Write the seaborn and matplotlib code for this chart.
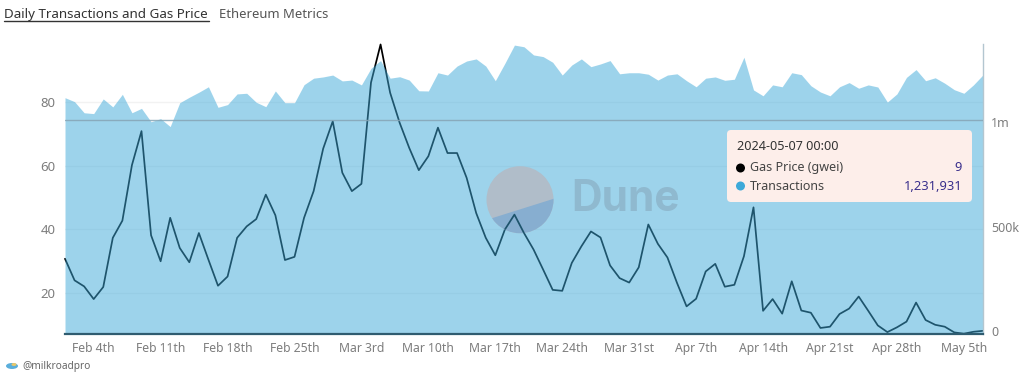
import matplotlib
matplotlib.use("Agg")
import matplotlib.pyplot as plt
import matplotlib.patches as mp
from matplotlib.lines import Line2D
import seaborn as sns
import pandas as pd

gas_price = [30.7,23.9,22,18,21.8,37.3,42.7,60.2,70.9,38.1,29.9,43.6,34.1,29.6,38.8,30.4,22.2,25.1,37.3,40.9,
             43.2,50.9,44.4,30.3,31.3,43.6,52,65.4,74,57.8,52,54.3,86.2,98.2,83,73.5,65.6,58.6,63,72,
             64,64,56.2,45.1,37.3,31.8,39.9,44.6,38.8,33.6,27.3,20.9,20.6,29.4,34.6,39.3,37.4,28.6,24.6,23.2,
             28,41.5,35.4,31.1,23.1,15.7,18.1,26.7,29.1,21.9,22.5,31.5,46.9,14.3,18,13.4,23.6,14.4,13.7,8.9,
             9.3,13.3,15,18.8,14.3,9.7,7.6,9.1,10.9,16.9,11.4,9.9,9.3,7.5,7.1,7.7,8]
transactions_k = [1116,1097,1044,1040,1110,1072,1132,1044,1065,1001,1016,978,1092,1118,1142,1168,1070,1083,1134,1137,
                  1094,1073,1148,1092,1092,1178,1209,1215,1224,1196,1200,1177,1256,1293,1209,1216,1200,1149,1148,1235,
                  1224,1267,1291,1301,1267,1197,1280,1367,1359,1320,1312,1285,1224,1272,1301,1264,1277,1293,1230,1235,
                  1235,1228,1200,1224,1230,1197,1168,1209,1215,1199,1204,1309,1153,1125,1177,1168,1235,1226,1173,1143,
                  1125,1168,1188,1161,1177,1167,1095,1134,1213,1250,1197,1211,1185,1154,1137,1177,1225]
x_tick_dates = ["2024-02-04","2024-02-11","2024-02-18","2024-02-25","2024-03-03","2024-03-10","2024-03-17",
                "2024-03-24","2024-03-31","2024-04-07","2024-04-14","2024-04-21","2024-04-28","2024-05-05"]
x_tick_labels = ["Feb 4th","Feb 11th","Feb 18th","Feb 25th","Mar 3rd","Mar 10th","Mar 17th",
                 "Mar 24th","Mar 31st","Apr 7th","Apr 14th","Apr 21st","Apr 28th","May 5th"]
gas_ticks = [20,40,60,80]
tx_ticks = [0,500000,1000000]
tx_tick_labels = ["0","500k","1m"]
tx_reference_line = 1010000

W, H = 1024, 375
sns.set_theme(style="white")
FONT = ["Noto Sans", "DejaVu Sans"]
plt.rcParams["font.family"] = FONT

df = pd.DataFrame({"date": pd.date_range("2024-02-01", periods=len(gas_price), freq="D"),
                   "gas": gas_price,
                   "tx": [v*1000 for v in transactions_k]})

rect = [65/W, 1-334/H, (983-65)/W, (334-43.5)/H]
fig = plt.figure(figsize=(W/100, H/100), dpi=100, facecolor="white")
ax = fig.add_axes(rect)
sns.lineplot(data=df, x="date", y="gas", ax=ax, color="black", lw=1.25, clip_on=False, zorder=3)
ax.set_xlim(df["date"].iloc[0], df["date"].iloc[-1])
ax.set_ylim(7.0, 98.5)
ax.set_yticks(gas_ticks)
ax.yaxis.grid(True, color="#f2f2f2", lw=1)
ax.xaxis.grid(False)
ax.set_xticks(pd.to_datetime(x_tick_dates))
ax.set_xticklabels(x_tick_labels)
ax.set_xlabel(""); ax.set_ylabel("")
ax.tick_params(axis="x", length=0, labelsize=8.8, labelcolor="#7d7d7d", pad=6)
ax.tick_params(axis="y", length=0, labelsize=9.5, labelcolor="#7d7d7d", pad=7)
for s in ax.spines.values():
    s.set_visible(False)

ax2 = ax.twinx()
ax2.patch.set_visible(False)
sns.lineplot(data=df, x="date", y="tx", ax=ax2, color="#3da9d9", lw=0)
ax2.fill_between(df["date"], df["tx"], -12000, color="#3da9d9", alpha=0.5, lw=0, zorder=2)
ax2.set_ylim(-12000, 1374600)
ax2.set_yticks(tx_ticks)
ax2.set_yticklabels(tx_tick_labels)
ax2.set_xlabel(""); ax2.set_ylabel("")
ax2.axhline(tx_reference_line, color="#86a5b5", lw=1, alpha=0.85, zorder=3)
ax2.tick_params(axis="y", length=0, labelsize=9, labelcolor="#7d7d7d", pad=6)
for k, s in ax2.spines.items():
    s.set_visible(k in ("right", "bottom"))
ax2.spines["right"].set_color("#b3c6d0"); ax2.spines["right"].set_linewidth(1)
ax2.spines["bottom"].set_color("#2f5c70"); ax2.spines["bottom"].set_linewidth(1.6)

def fx(px): return px/W
def fy(py): return 1-py/H

# watermark (pixel-space decoration)
cx, cy, r = 520, 199.7, 33.5
fig.add_artist(mp.Circle((cx, H-cy), r, transform=None, fc="#b0bdc9", ec="none", zorder=5))
low = mp.Polygon([(480, H-(218.3+11.7*0.315)), (560, H-(218.3-68.3*0.315)), (560, H-250), (480, H-250)],
                 closed=True, transform=None, fc="#87aed0", ec="none", zorder=5.1)
fig.add_artist(low)
low.set_clip_path(mp.Circle((cx, H-cy), r, transform=None))
fig.text(fx(571), fy(199.5), "Dune", fontsize=30.5, fontweight="bold", color="#8fb9cf",
         family=["Inter", "DejaVu Sans"], va="center", ha="left", zorder=5.2)

# gas line redrawn above the watermark, only inside its disc
ax3 = fig.add_axes(rect, sharex=ax, sharey=ax, zorder=6)
ax3.patch.set_visible(False)
ax3.axis("off")
sns.lineplot(data=df, x="date", y="gas", ax=ax3, color="#1e546c", lw=1.25)
for ln in ax3.get_lines():
    ln.set_clip_path(mp.Circle((cx, H-cy), r, transform=None))

# tooltip
fig.add_artist(mp.FancyBboxPatch((730, H-199), 239, 66, boxstyle="round,pad=3,rounding_size=4",
                                 transform=None, fc="#fdeeea", ec="none", zorder=7))
tc = "#333333"
fig.text(fx(737), fy(146), "2024-05-07 00:00", fontsize=9.1, fontweight="bold", color=tc, va="center", zorder=8)
fig.text(fx(750), fy(168), "Gas Price (gwei)", fontsize=9, color="#444444", va="center", zorder=8)
fig.text(fx(750), fy(186), "Transactions", fontsize=9, color="#444444", va="center", zorder=8)
fig.text(fx(962), fy(168), "9", fontsize=9.3, color="#3a2f8c", va="center", ha="right", zorder=8)
fig.text(fx(962), fy(186), "1,231,931", fontsize=9.3, color="#3a2f8c", va="center", ha="right", zorder=8)
fig.add_artist(mp.Circle((740.5, H-168), 4.5, transform=None, fc="black", ec="none", zorder=8))
fig.add_artist(mp.Circle((740.5, H-186), 4.5, transform=None, fc="#3da9d9", ec="none", zorder=8))

# header and footer
fig.text(fx(4), fy(14.5), "Daily Transactions and Gas Price", fontsize=9.65, fontweight="medium",
         color="#333333", va="center", zorder=8)
fig.add_artist(Line2D([fx(3.5), fx(208.5)], [fy(20.8), fy(20.8)], color="#333333", lw=1))
fig.text(fx(219), fy(14.5), "Ethereum Metrics", fontsize=9.4, color="#555555", va="center", zorder=8)
fig.text(fx(22), fy(366.5), "@milkroadpro", fontsize=7.3, color="#666666", va="center", zorder=8)
fig.add_artist(mp.Ellipse((12, H-366), 12, 6, transform=None, fc="#5aaedb", ec="none"))
fig.add_artist(mp.Ellipse((14, H-364.5), 5, 3, transform=None, fc="#e8c76a", ec="none"))

fig.savefig("out.png", dpi=100, facecolor="white")
